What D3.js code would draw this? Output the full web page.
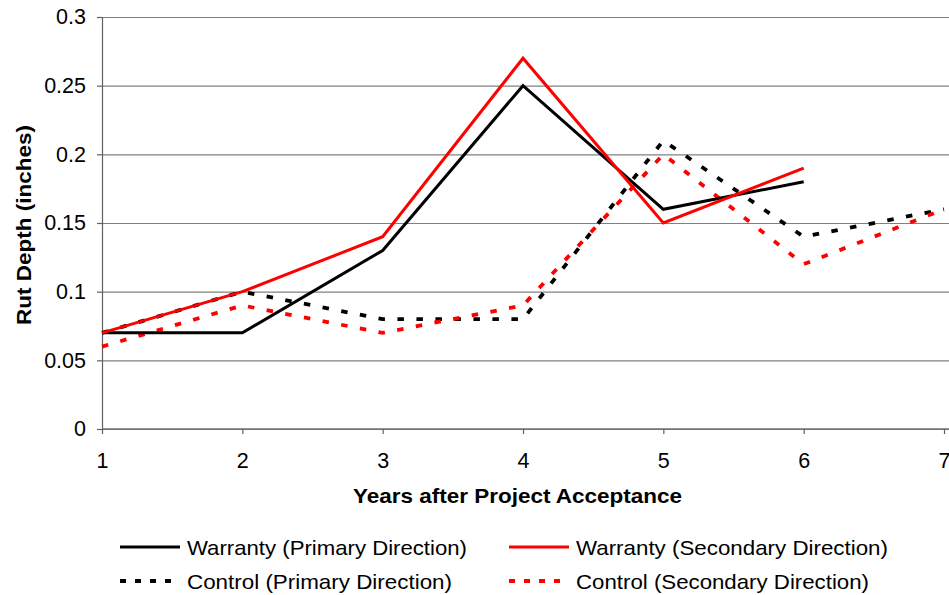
<!DOCTYPE html>
<html>
<head>
<meta charset="utf-8">
<script src="https://cdn.jsdelivr.net/npm/d3@7"></script>
<style>
  html, body { margin: 0; padding: 0; background: #fff; }
  svg { display: block; font-family: "Liberation Sans", Arial, sans-serif; }
</style>
</head>
<body>
<svg id="chart" width="949" height="595"></svg>
<script>
// ---- data ----
const years = [1, 2, 3, 4, 5, 6, 7];
const warrantyPrimary   = [0.07, 0.07, 0.13, 0.25, 0.16, 0.18, null];
const warrantySecondary = [0.07, 0.10, 0.14, 0.27, 0.15, 0.19, null];
const controlPrimary    = [0.07, 0.10, 0.08, 0.08, 0.21, 0.14, 0.16];
const controlSecondary  = [0.06, 0.09, 0.07, 0.09, 0.20, 0.12, 0.16];
const yTickValues = [0, 0.05, 0.1, 0.15, 0.2, 0.25, 0.3];
const yTickLabels = ["0", "0.05", "0.1", "0.15", "0.2", "0.25", "0.3"];
const xTickLabels = ["1", "2", "3", "4", "5", "6", "7"];
const seriesNames = [
  "Warranty (Primary Direction)",
  "Warranty (Secondary Direction)",
  "Control (Primary Direction)",
  "Control (Secondary Direction)"
];
const xTitle = "Years after Project Acceptance";
const yTitle = "Rut Depth (inches)";

// ---- layout ----
const svg = d3.select("#chart");
const mLeft = 102, mRight = 944, mTop = 17, mBottom = 429, gridRight = 949;
const x = d3.scaleLinear().domain([1, 7]).range([mLeft, mRight]);
const y = d3.scaleLinear().domain([0, 0.3]).range([mBottom, mTop]);

// gridlines
svg.append("g")
  .attr("transform", `translate(${mLeft},0)`)
  .call(d3.axisLeft(y).tickValues(yTickValues).tickSize(-(gridRight - mLeft)).tickFormat(""))
  .call(g => g.select(".domain").remove())
  .call(g => g.selectAll("line").attr("stroke", "#808080").attr("stroke-width", 1.2));

// y axis
svg.append("g")
  .attr("transform", `translate(${mLeft},0)`)
  .call(d3.axisLeft(y).tickValues(yTickValues).tickSize(5).tickPadding(11)
    .tickFormat((d, i) => yTickLabels[i]))
  .call(g => g.select(".domain").attr("stroke", "#606060").attr("stroke-width", 1.2))
  .call(g => g.selectAll("line").attr("stroke", "#606060").attr("stroke-width", 1.2))
  .call(g => g.selectAll("text").attr("font-size", 21.5).attr("fill", "#000")
    .attr("font-family", "Liberation Sans, Arial, sans-serif"));

// x axis
svg.append("g")
  .attr("transform", `translate(0,${mBottom})`)
  .call(d3.axisBottom(x).tickValues(years).tickSize(5).tickPadding(19)
    .tickFormat((d, i) => xTickLabels[i]))
  .call(g => g.select(".domain").attr("stroke", "#707070").attr("stroke-width", 1.5)
    .attr("d", `M${mLeft},0H${gridRight}`))
  .call(g => g.selectAll("line").attr("stroke", "#606060").attr("stroke-width", 1.2))
  .call(g => g.selectAll("text").attr("font-size", 21.5).attr("fill", "#000")
    .attr("font-family", "Liberation Sans, Arial, sans-serif"));

// lines
const series = [
  { name: seriesNames[0], values: warrantyPrimary,   color: "#000000", dash: null, width: 3 },
  { name: seriesNames[1], values: warrantySecondary, color: "#ff0000", dash: null, width: 3 },
  { name: seriesNames[2], values: controlPrimary,    color: "#000000", dash: "6.5,12.5", width: 3.8 },
  { name: seriesNames[3], values: controlSecondary,  color: "#ff0000", dash: "6.5,12.5", width: 3.8 }
];
const line = d3.line()
  .defined(d => d[1] != null)
  .x(d => x(d[0]))
  .y(d => y(d[1]));

const drawOrder = [2, 3, 0, 1];
drawOrder.forEach(i => {
  const s = series[i];
  svg.append("path")
    .datum(years.map((yr, k) => [yr, s.values[k]]))
    .attr("d", line)
    .attr("fill", "none")
    .attr("stroke", s.color)
    .attr("stroke-width", s.width)
    .attr("stroke-dasharray", s.dash)
    .attr("stroke-linejoin", "miter");
});

// axis titles
svg.append("text")
  .attr("x", 517.5).attr("y", 503)
  .attr("text-anchor", "middle")
  .attr("font-size", 20.5).attr("font-weight", "bold")
  .attr("textLength", 329).attr("lengthAdjust", "spacingAndGlyphs")
  .text(xTitle);

svg.append("text")
  .attr("transform", "translate(31,225) rotate(-90)")
  .attr("text-anchor", "middle")
  .attr("font-size", 21).attr("font-weight", "bold")
  .attr("textLength", 200).attr("lengthAdjust", "spacingAndGlyphs")
  .text(yTitle);

// legend
const legendItems = [
  { s: series[0], lx: 120, ly: 547, tw: 280 },
  { s: series[1], lx: 509, ly: 547, tw: 312 },
  { s: series[2], lx: 120, ly: 581, tw: 265 },
  { s: series[3], lx: 509, ly: 581, tw: 293 }
];
const lg = svg.append("g");
legendItems.forEach(it => {
  lg.append("line")
    .attr("x1", it.lx).attr("x2", it.lx + 60)
    .attr("y1", it.ly).attr("y2", it.ly)
    .attr("stroke", it.s.color)
    .attr("stroke-width", it.s.dash ? 3.8 : 3)
    .attr("stroke-dasharray", it.s.dash ? "6,9" : null);
  lg.append("text")
    .attr("x", it.lx + 67).attr("y", it.ly + 7.5)
    .attr("font-size", 21)
    .attr("textLength", it.tw).attr("lengthAdjust", "spacingAndGlyphs")
    .text(it.s.name);
});
</script>
</body>
</html>
